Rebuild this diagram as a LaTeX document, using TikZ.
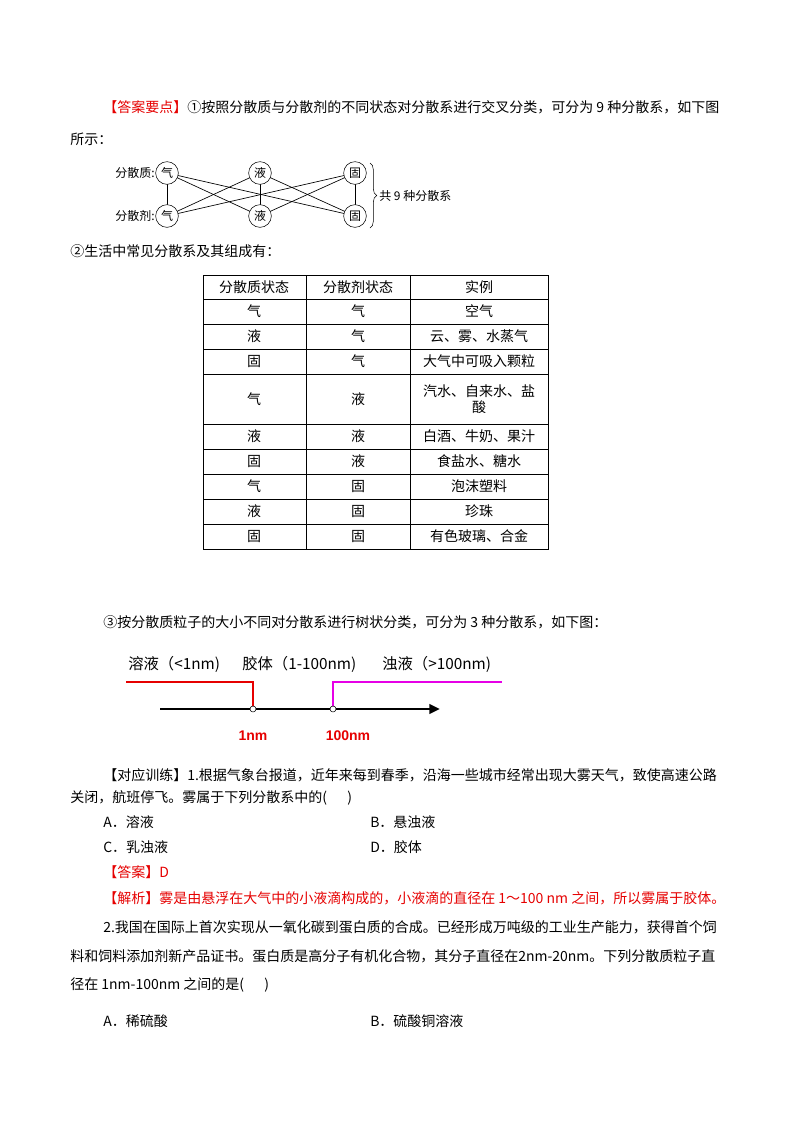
\documentclass[tikz,border=0pt]{standalone}
\usepackage{fontspec}
\setmainfont{Noto Sans CJK SC}
\newfontfamily\latfont{Liberation Sans}
\usetikzlibrary{arrows.meta,decorations.pathreplacing}
\definecolor{ansred}{RGB}{230,0,0}
\definecolor{mag}{RGB}{230,0,230}
\begin{document}
\begin{tikzpicture}[x=0.75pt,y=-0.75pt,
  txt/.style={anchor=west,inner sep=0,font=\fontsize{10.5}{12}\selectfont},
  small/.style={inner sep=0,font=\fontsize{9}{10}\selectfont},
  circ/.style={circle,draw,fill=white,minimum size=17pt,inner sep=0,font=\fontsize{9}{10}\selectfont},
  cell/.style={inner sep=0,font=\fontsize{10.5}{12}\selectfont,align=center}]
\useasboundingbox (0,0) rectangle (800,1132);
\fill[white] (0,0) rectangle (800,1132);
% paragraph 1
\node[txt] (p1) at (103,107) {\textcolor{ansred}{【答案要点】}①按照分散质与分散剂的不同状态对分散系进行交叉分类，可分为 9 种分散系，如下图};
\node[txt] (p1b) at (70,139) {所示：};
% cross diagram
\coordinate (a1) at (167,173);
\coordinate (a2) at (260,173);
\coordinate (a3) at (355,173);
\coordinate (b1) at (167,216);
\coordinate (b2) at (260,216);
\coordinate (b3) at (355,216);
\foreach \u in {a1,a2,a3}{\foreach \v in {b1,b2,b3}{\draw[line width=0.5pt] (\u) -- (\v);}}
\node[circ] (ca1) at (a1) {气};
\node[circ] (ca2) at (a2) {液};
\node[circ] (ca3) at (a3) {固};
\node[circ] (cb1) at (b1) {气};
\node[circ] (cb2) at (b2) {液};
\node[circ] (cb3) at (b3) {固};
\node[small,anchor=east] (la) at (155,173) {分散质:};
\node[small,anchor=east] (lb) at (155,216) {分散剂:};
\draw[decorate,decoration={brace,amplitude=5pt}] (370,163) -- (370,228);
\node[small,anchor=west] (tot) at (379,196) {共 9 种分散系};
% table
\node[txt] (p2) at (70,251) {②生活中常见分散系及其组成有：};
\draw[line width=0.6pt] (203,275) rectangle (548,549);
\foreach \y in {299,324,349,374,424,449,474,499,524}{\draw[line width=0.6pt] (203,\y) -- (548,\y);}
\draw[line width=0.6pt] (306,275) -- (306,549);
\draw[line width=0.6pt] (410,275) -- (410,549);
\foreach \r/\ya/\yb/\a/\b/\c in {
 0/275/299/分散质状态/分散剂状态/实例,
 1/299/324/气/气/空气,
 2/324/349/液/气/云、雾、水蒸气,
 3/349/374/固/气/大气中可吸入颗粒,
 4/374/424/气/液/{汽水、自来水、盐\\酸},
 5/424/449/液/液/白酒、牛奶、果汁,
 6/449/474/固/液/食盐水、糖水,
 7/474/499/气/固/泡沫塑料,
 8/499/524/液/固/珍珠,
 9/524/549/固/固/有色玻璃、合金}{
 \node[cell] (c\r a) at (254,{(\ya+\yb)/2}) {\a};
 \node[cell] (c\r b) at (358,{(\ya+\yb)/2}) {\b};
 \node[cell,text width=125pt] (c\r c) at (479,{(\ya+\yb)/2}) {\c};
}
% tree classification
\node[txt] (p3) at (103,622) {③按分散质粒子的大小不同对分散系进行树状分类，可分为 3 种分散系，如下图：};
\node[txt,font=\fontsize{11.5}{13}\selectfont] (s1) at (128,664) {溶液（<1nm)};
\node[txt,font=\fontsize{11.5}{13}\selectfont] (s2) at (242,664) {胶体（1-100nm)};
\node[txt,font=\fontsize{11.5}{13}\selectfont] (s3) at (382,664) {浊液（>100nm)};
\coordinate (r0) at (126,682);
\coordinate (r1) at (253,682);
\coordinate (m1) at (333,682);
\coordinate (m0) at (502,682);
\coordinate (ax0) at (160,709);
\coordinate (ax1) at (440,709);
\coordinate (p1c) at (253,709);
\coordinate (p2c) at (333,709);
\draw[line width=2pt,-{Triangle[length=8pt,width=7pt]}] (ax0) -- (ax1);
\draw[ansred,line width=2pt] (r0) -- (r1) -- (p1c);
\draw[mag,line width=2pt] (p2c) -- (m1) -- (m0);
\node[circle,draw,fill=white,inner sep=0,minimum size=4.5pt] (k1) at (p1c) {};
\node[circle,draw,fill=white,inner sep=0,minimum size=4.5pt] (k2) at (p2c) {};
\node[inner sep=0,font=\latfont\bfseries\fontsize{10.5}{12}\selectfont,text=ansred] (n1) at (253,736) {1nm};
\node[inner sep=0,font=\latfont\bfseries\fontsize{10.5}{12}\selectfont,text=ansred] (n2) at (348,736) {100nm};
% exercises
\node[txt] (q1) at (103,775) {【对应训练】1.根据气象台报道，近年来每到春季，沿海一些城市经常出现大雾天气，致使高速公路};
\node[txt] (q1b) at (70,798) {关闭，航班停飞。雾属于下列分散系中的(\quad\ \ )};
\node[txt] (oA) at (103,822) {A．溶液};
\node[txt] (oB) at (370,822) {B．悬浊液};
\node[txt] (oC) at (103,847) {C．乳浊液};
\node[txt] (oD) at (370,847) {D．胶体};
\node[txt,text=ansred] (ans) at (103,872) {【答案】D};
\node[txt,text=ansred] (jx) at (103,898) {【解析】雾是由悬浮在大气中的小液滴构成的，小液滴的直径在 1～100 nm 之间，所以雾属于胶体。};
\node[txt] (q2) at (103,927) {2.我国在国际上首次实现从一氧化碳到蛋白质的合成。已经形成万吨级的工业生产能力，获得首个饲};
\node[txt] (q2b) at (70,956) {料和饲料添加剂新产品证书。蛋白质是高分子有机化合物，其分子直径在2nm-20nm。下列分散质粒子直};
\node[txt] (q2c) at (70,985) {径在 1nm-100nm 之间的是(\quad\ \ )};
\node[txt] (oA2) at (103,1021) {A．稀硫酸};
\node[txt] (oB2) at (370,1021) {B．硫酸铜溶液};
\end{tikzpicture}
\end{document}
